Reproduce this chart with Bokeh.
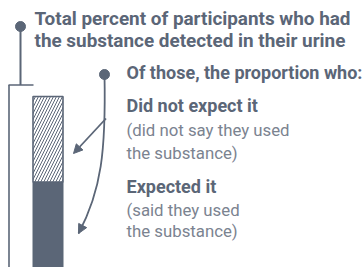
from bokeh.plotting import figure
from bokeh.models import Range1d, Arrow, NormalHead
from bokeh.core.properties import value
from bokeh.embed import file_html
from bokeh.resources import INLINE

# ---- data ----
title_lines = ["Total percent of participants who had",
               "the substance detected in their urine"]
intro_line = "Of those, the proportion who:"
segment_labels = ["Expected it", "Did not expect it"]
segment_notes = [["(said they used", "the substance)"],
                 ["(did not say they used", "the substance)"]]
segment_values = [50, 50]          # share of detected (percent)

DARK = "#5b6677"
LIGHT = "#7b8390"
FONT = value("Roboto")
W, H = 364, 267

p = figure(width=W, height=H, output_backend="svg", toolbar_location=None,
           x_range=Range1d(0, W), y_range=Range1d(H, 0),
           min_border=0, x_axis_location=None, y_axis_location=None,
           outline_line_color=None, background_fill_color="white")
p.grid.visible = False

# percent frame for the bar (bar bottom at the lower edge)
px_per_unit = 171 / sum(segment_values)
p.extra_y_ranges = {"pct": Range1d(start=0, end=H / px_per_unit)}

bottoms = [0, segment_values[0]]
tops = [segment_values[0], segment_values[0] + segment_values[1]]
bar_x = 47.5
# solid: expected
p.vbar(x=[bar_x], bottom=[bottoms[0]], top=[tops[0]], width=30,
       fill_color=DARK, line_color=DARK, line_width=1, y_range_name="pct")
# hatched: did not expect
p.vbar(x=[bar_x], bottom=[bottoms[1]], top=[tops[1]], width=30,
       fill_color="white", line_color=DARK, line_width=1.6,
       hatch_pattern="/", hatch_color=DARK, hatch_weight=1.0, hatch_scale=6,
       y_range_name="pct")

# bracket for the title
p.line([20, 20], [26, 84.5], line_color=DARK, line_width=2)
p.line([8, 33], [84.5, 84.5], line_color=DARK, line_width=1.6)
p.line([8.5, 8.5], [84.5, 270], line_color=DARK, line_width=1.6)
p.scatter([20, 104], [26, 74], size=10, fill_color=DARK, line_color=DARK)

# curved arrow to solid part
p.bezier(x0=[104], y0=[74], x1=[78], y1=[233], cx0=[105.5], cy0=[150],
         cx1=[101], cy1=[190], line_color=DARK, line_width=1.8)
p.add_layout(Arrow(end=NormalHead(size=9, fill_color=DARK, line_color=DARK),
                   x_start=79.1, y_start=230.9, x_end=78, y_end=233,
                   line_color=DARK, line_alpha=0))
# straight arrow to hatched part
p.add_layout(Arrow(end=NormalHead(size=9, fill_color=DARK, line_color=DARK),
                   x_start=105.5, y_start=118, x_end=73, y_end=153,
                   line_color=DARK, line_width=1.8))

# texts
p.text(x=[34, 34], y=[18, 40], text=title_lines, text_font=FONT,
       text_font_size="18.9px", text_font_style="bold", text_color=DARK,
       text_baseline="alphabetic")
p.text(x=[126, 126, 126], y=[72, 105, 186],
       text=[intro_line, segment_labels[1], segment_labels[0]], text_font=FONT,
       text_font_size="18px", text_font_style="bold", text_color=DARK,
       text_baseline="alphabetic")
p.text(x=[126, 126, 126, 126], y=[129, 152, 209, 230],
       text=segment_notes[1] + segment_notes[0], text_font=FONT,
       text_font_size="16.8px", text_color=LIGHT, text_baseline="alphabetic")

open("out.html", "w").write(file_html(p, INLINE))
